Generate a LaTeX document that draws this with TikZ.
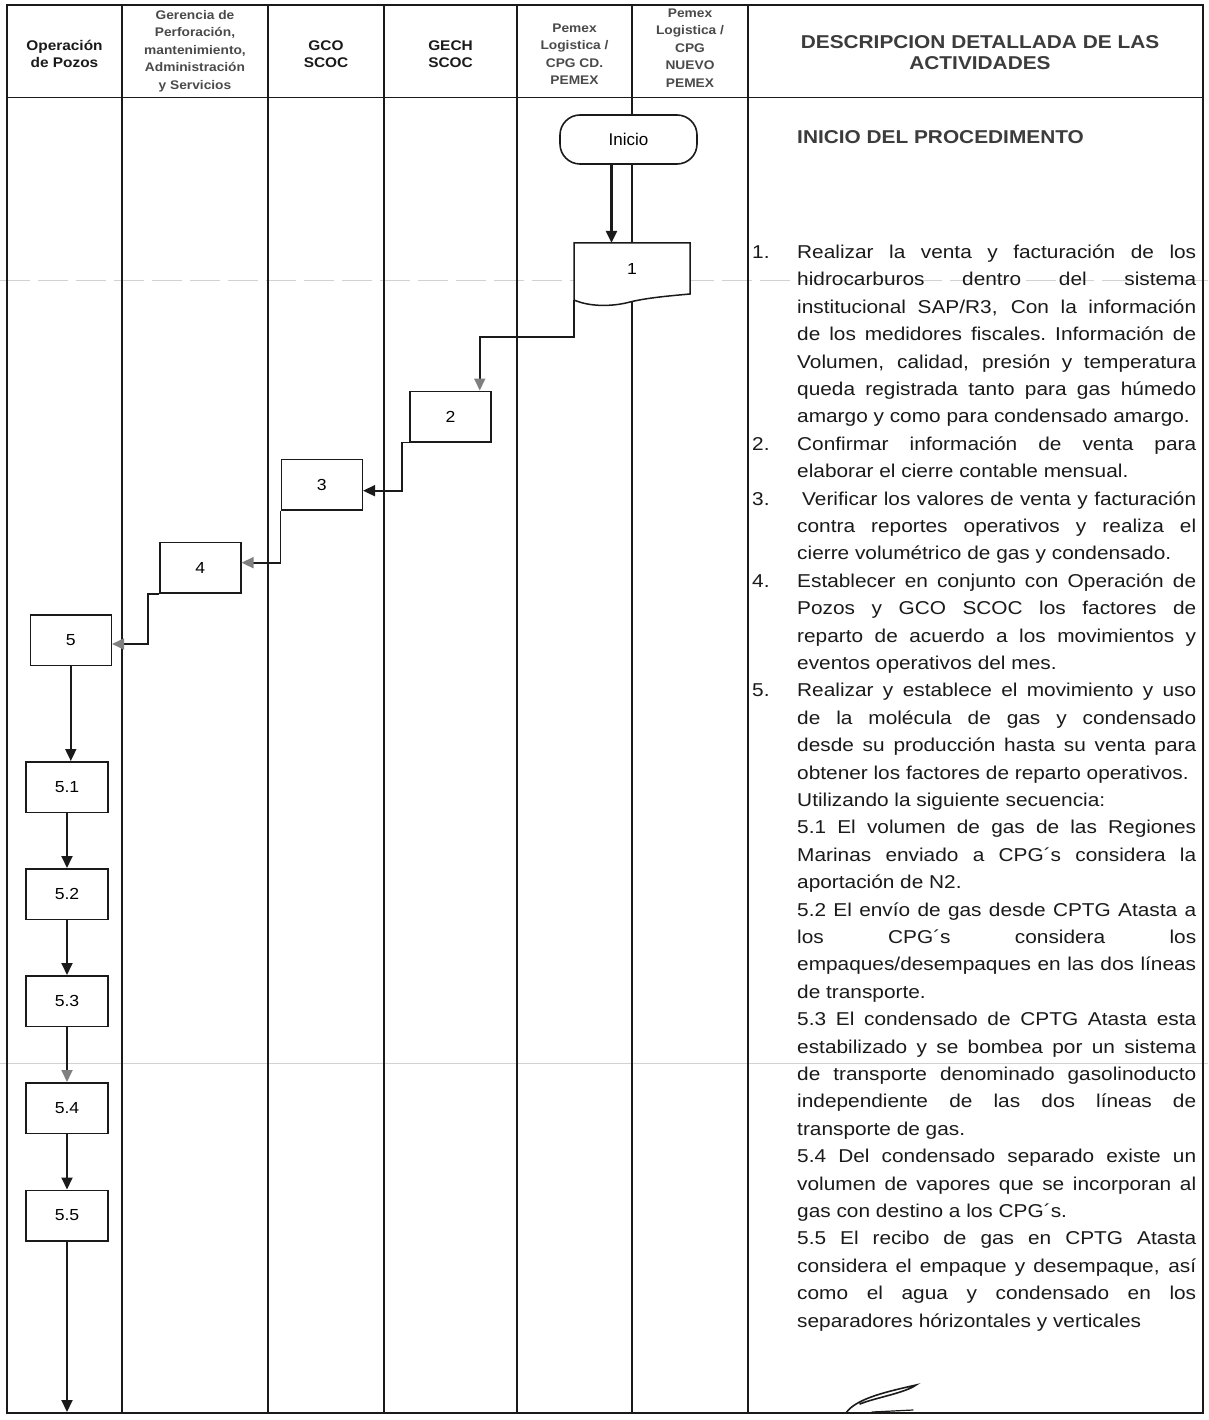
\documentclass[tikz,border=0pt]{standalone}
\usepackage{fontspec}
\setmainfont{Liberation Sans}[FakeStretch=1.1]
\newfontfamily\descfont{Liberation Sans}[FakeStretch=1.12]
\newfontfamily\termfont{Liberation Sans}
\usetikzlibrary{arrows.meta}
\definecolor{ink}{HTML}{1A1A1A}
\definecolor{hdrgray}{HTML}{4A4A4A}
\definecolor{titlegray}{HTML}{3C3C3C}
\definecolor{tipgray}{HTML}{808080}
\definecolor{scan}{HTML}{D2D2D2}
% justified line: interword glue spread evenly over the full measure
\newcommand\fillline[2]{\makebox[#1][s]{\spaceskip=.278em plus 1fil minus .06em\xspaceskip=\spaceskip\relax#2}}
\newcommand\numjust[2]{\makebox[45pt][l]{#1}\fillline{399pt}{#2}}
\newcommand\cjust[1]{\hspace*{45pt}\fillline{399pt}{#1}}
\newcommand\clast[1]{\hspace*{45pt}#1}
\begin{document}
\begin{tikzpicture}[x=1pt,y=-1pt,
  lane/.style={draw=ink, line width=1.3pt},
  frame/.style={draw=ink, line width=1.8pt},
  hdr/.style={align=center, inner sep=0, text=ink, font=\bfseries\fontsize{14}{17}\selectfont},
  hdrsm/.style={align=center, inner sep=0, text=hdrgray, font=\bfseries\fontsize{12.5}{17.5}\selectfont},
  stepbox/.style={draw=ink, fill=white, line width=1.5pt, minimum width=81pt, minimum height=50.5pt, inner sep=0, font=\fontsize{16}{16}\selectfont},
  conn/.style={draw=ink, line width=1.8pt, -{Triangle[width=11pt,length=12pt]}},
  conngray/.style={draw=ink, line width=1.8pt, -{Triangle[width=11pt,length=12pt,color=tipgray]}}
]
\useasboundingbox (0,0) rectangle (1208,1420);
\fill[white] (0,0) rectangle (1208,1420);

% faint scan lines
\draw[scan, line width=1pt, dash pattern=on 30pt off 8pt] (0,281) -- (1208,281);
\draw[scan, line width=1pt] (0,1063) -- (1208,1063);

% swimlanes and frame
\foreach \x in {122,268,384,517,632,748} \draw[lane] (\x,5) -- (\x,1413);
\draw[frame] (7,5) rectangle (1203,1413);
\draw[frame] (7,97.5) -- (1203,97.5);

% lane headers
\node[hdr]   (hop)  at (64.5,54)  {Operación\\de Pozos};
\node[hdrsm] (hger) at (195,51)   {Gerencia de\\Perforación,\\mantenimiento,\\Administración\\y Servicios};
\node[hdr]   (hgco) at (326,54.5) {GCO\\SCOC};
\node[hdr]   (hgch) at (450.5,54.5) {GECH\\SCOC};
\node[hdrsm] (hcd)  at (574.5,54) {Pemex\\Logistica /\\CPG CD.\\PEMEX};
\node[hdrsm] (hnv)  at (690,48)   {Pemex\\Logistica /\\CPG\\NUEVO\\PEMEX};
\node[align=center, inner sep=0, text=titlegray, font=\descfont\bfseries\fontsize{18.6}{21.6}\selectfont] (htit) at (980,52.5) {DESCRIPCION DETALLADA DE LAS\\ACTIVIDADES};

% start terminal
\node[draw=ink, fill=white, line width=1.6pt, rounded corners=20pt, minimum width=137pt, minimum height=49pt, inner sep=0, font=\termfont\fontsize{17}{17}\selectfont] (ini) at (628.5,139.5) {Inicio};

% step 1 : document symbol
\filldraw[fill=white, draw=ink, line width=1.5pt] (574,243) -- (690,243) -- (690,294)
  .. controls (668,296) and (645,298) .. (628,302.5)
  .. controls (612,306.5) and (590,307) .. (574,300) -- cycle;
\node[minimum width=116pt, minimum height=51pt, inner sep=0, font=\fontsize{16}{16}\selectfont] (b1) at (632,268.5) {1};

% process steps
\node[stepbox] (b2) at (450.5,416.5) {2};
\node[stepbox] (b3) at (321.8,484.7) {3};
\node[stepbox] (b4) at (200.3,567.7) {4};
\node[stepbox] (b5) at (70.8,640) {5};
\node[stepbox, minimum width=82pt] (b51) at (67,787)    {5.1};
\node[stepbox, minimum width=82pt] (b52) at (67,894)    {5.2};
\node[stepbox, minimum width=82pt] (b53) at (67,1001)   {5.3};
\node[stepbox, minimum width=82pt] (b54) at (67,1108)   {5.4};
\node[stepbox, minimum width=82pt] (b55) at (67,1215.5) {5.5};
\coordinate (fin) at (67,1412);

% connectors
\coordinate (a0) at ([xshift=-17pt]ini.south);
\draw[conn, line width=2.6pt] (a0) -- (a0 |- b1.north);
\draw[conngray] ([yshift=-6pt]b1.south west) -- ++(0,37) -| ([xshift=-12pt]b2.north east);
\draw[conn] (b2.south west) -- ++(-7,0) |- ([yshift=-6pt]b3.east);
\draw[conngray] (b3.south west) |- ([yshift=5pt]b4.east);
\draw[conngray] (b4.south west) -- ++(-11,0) |- ([yshift=-4pt]b5.east);
\draw[conn] (b5.south) -- (b5.south |- b51.north);
\draw[conn] (b51) -- (b52);
\draw[conn] (b52) -- (b53);
\draw[conngray] (b53) -- (b54);
\draw[conn] (b54) -- (b55);
\draw[conn] (b55.south) -- (b55.south |- fin);

% description column
\node[anchor=west, inner sep=0, text=titlegray, font=\descfont\bfseries\fontsize{18.6}{20}\selectfont] (proc) at (797,136.7) {INICIO DEL PROCEDIMENTO};

\node[anchor=north west, inner sep=0, text width=444pt, align=left, text=ink, font=\descfont\fontsize{18.6}{27.4}\selectfont] (desc) at (752,240.3) {%
\spaceskip=0pt\xspaceskip=0pt
\rule{0pt}{18pt}\numjust{1.}{Realizar la venta y facturación de los}\\
\cjust{hidrocarburos dentro del sistema}\\
\cjust{institucional SAP/R3, Con la información}\\
\cjust{de los medidores fiscales. Información de}\\
\cjust{Volumen, calidad, presión y temperatura}\\
\cjust{queda registrada tanto para gas húmedo}\\
\clast{amargo y como para condensado amargo.}\\
\numjust{2.}{Confirmar información de venta para}\\
\clast{elaborar el cierre contable mensual.}\\
\makebox[45pt][l]{3.}\hspace*{5pt}\fillline{394pt}{Verificar los valores de venta y facturación}\\
\cjust{contra reportes operativos y realiza el}\\
\clast{cierre volumétrico de gas y condensado.}\\
\numjust{4.}{Establecer en conjunto con Operación de}\\
\cjust{Pozos y GCO SCOC los factores de}\\
\cjust{reparto de acuerdo a los movimientos y}\\
\clast{eventos operativos del mes.}\\
\numjust{5.}{Realizar y establece el movimiento y uso}\\
\cjust{de la molécula de gas y condensado}\\
\cjust{desde su producción hasta su venta para}\\
\clast{obtener los factores de reparto operativos.}\\
\clast{Utilizando la siguiente secuencia:}\\
\cjust{5.1 El volumen de gas de las Regiones}\\
\cjust{Marinas enviado a CPG´s considera la}\\
\clast{aportación de N2.}\\
\cjust{5.2 El envío de gas desde CPTG Atasta a}\\
\cjust{los CPG´s considera los}\\
\cjust{empaques/desempaques en las dos líneas}\\
\clast{de transporte.}\\
\cjust{5.3 El condensado de CPTG Atasta esta}\\
\cjust{estabilizado y se bombea por un sistema}\\
\cjust{de transporte denominado gasolinoducto}\\
\cjust{independiente de las dos líneas de}\\
\clast{transporte de gas.}\\
\cjust{5.4 Del condensado separado existe un}\\
\cjust{volumen de vapores que se incorporan al}\\
\clast{gas con destino a los CPG´s.}\\
\cjust{5.5 El recibo de gas en CPTG Atasta}\\
\cjust{considera el empaque y desempaque, así}\\
\cjust{como el agua y condensado en los}\\
\clast{separadores hórizontales y verticales}};

% signature stroke
\draw[ink, line width=1.6pt, line cap=round] (846,1413) .. controls (856,1398) and (890,1391) .. (916,1385)
  .. controls (905,1393) and (874,1398) .. (860,1404);
\draw[ink, line width=1.2pt, line cap=round] (872,1412) -- (913,1410);
\end{tikzpicture}
\end{document}
